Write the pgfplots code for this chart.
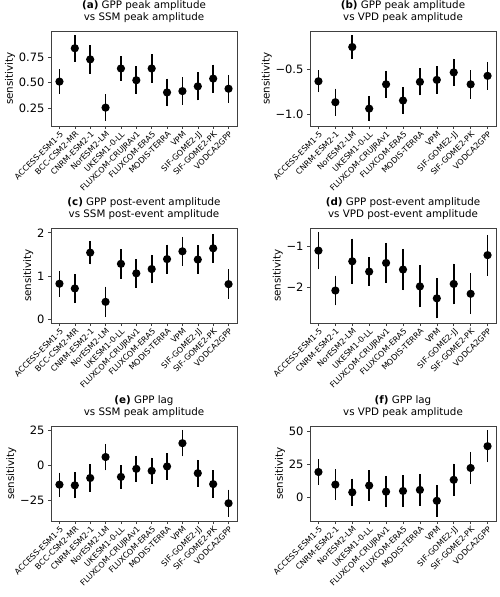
\documentclass[border=0pt]{standalone}
\usepackage{pgfplots}
\pgfplotsset{compat=1.18}
\usepackage{fontspec}
\setmainfont{DejaVu Sans}
\pgfplotsset{
  panel/.style={
    scale only axis, width=186pt, height=95pt,
    anchor=north west,
    axis line style={black!75, line width=0.6pt},
    tick style={black!75, line width=0.6pt},
    tick align=outside, major tick length=3pt,
    xtick pos=bottom, ytick pos=left,
    xtick=data,
    xticklabel style={rotate=45, anchor=north east, font=\fontsize{8}{9}\selectfont, inner sep=1pt},
    yticklabel style={font=\fontsize{11.5}{13}\selectfont},
    ylabel={sensitivity},
    ylabel shift=-3pt,
    ylabel style={font=\fontsize{10.3}{12}\selectfont},
    title style={align=center, font=\fontsize{10.3}{12.3}\selectfont, inner sep=2pt},
  },
  left/.style={panel, xmin=-0.55, xmax=11.55,
    xticklabels={ACCESS-ESM1-5,BCC-CSM2-MR,CNRM-ESM2-1,NorESM2-LM,UKESM1-0-LL,FLUXCOM-CRUJRAv1,FLUXCOM-ERA5,MODIS-TERRA,VPM,SIF-GOME2-JJ,SIF-GOME2-PK,VODCA2GPP}},
  right/.style={panel, xmin=-0.5, xmax=10.5,
    xticklabels={ACCESS-ESM1-5,CNRM-ESM2-1,NorESM2-LM,UKESM1-0-LL,FLUXCOM-CRUJRAv1,FLUXCOM-ERA5,MODIS-TERRA,VPM,SIF-GOME2-JJ,SIF-GOME2-PK,VODCA2GPP}},
  pt/.style={black, fill=black, mark=*, mark size=3.2pt, only marks, line width=1.7pt,
      error bars/.cd, y dir=both, y explicit, error mark=none,
      error bar style={line width=1.7pt, black}},
}
\begin{document}
\begin{tikzpicture}
% (a)
\begin{axis}[left, at={(51pt,-31pt)},
  ymin=0.08, ymax=1.0, ytick={0.25,0.5,0.75}, yticklabels={0.25,0.50,0.75},
  title={\textbf{(a)} GPP peak amplitude\\vs SSM peak amplitude}]
\addplot[pt] coordinates {
(0,0.51) +- (0,0.12)
(1,0.833) +- (0,0.13)
(2,0.725) +- (0,0.138)
(3,0.258) +- (0,0.129)
(4,0.637) +- (0,0.117)
(5,0.523) +- (0,0.135)
(6,0.637) +- (0,0.137)
(7,0.405) +- (0,0.134)
(8,0.418) +- (0,0.134)
(9,0.464) +- (0,0.135)
(10,0.539) +- (0,0.135)
(11,0.441) +- (0,0.134)
};
\end{axis}
% (b)
\begin{axis}[right, at={(310pt,-31pt)},
  ymin=-1.125, ymax=-0.07, ytick={-1,-0.5}, yticklabels={−1.0,−0.5},
  title={\textbf{(b)} GPP peak amplitude\\vs VPD peak amplitude}]
\addplot[pt] coordinates {
(0,-0.628) +- (0,0.122)
(1,-0.861) +- (0,0.15)
(2,-0.248) +- (0,0.131)
(3,-0.932) +- (0,0.141)
(4,-0.662) +- (0,0.15)
(5,-0.842) +- (0,0.15)
(6,-0.635) +- (0,0.15)
(7,-0.613) +- (0,0.152)
(8,-0.530) +- (0,0.152)
(9,-0.662) +- (0,0.158)
(10,-0.568) +- (0,0.154)
};
\end{axis}
% (c)
\begin{axis}[left, at={(51pt,-228pt)},
  ymin=-0.09, ymax=2.11, ytick={0,1,2}, yticklabels={0,1,2},
  title={\textbf{(c)} GPP post-event amplitude\\vs SSM post-event amplitude}]
\addplot[pt] coordinates {
(0,0.82) +- (0,0.30)
(1,0.71) +- (0,0.34)
(2,1.54) +- (0,0.27)
(3,0.40) +- (0,0.355)
(4,1.28) +- (0,0.345)
(5,1.06) +- (0,0.33)
(6,1.16) +- (0,0.33)
(7,1.39) +- (0,0.335)
(8,1.57) +- (0,0.335)
(9,1.38) +- (0,0.335)
(10,1.64) +- (0,0.335)
(11,0.81) +- (0,0.34)
};
\end{axis}
% (d)
\begin{axis}[right, at={(310pt,-228pt)},
  ymin=-2.86, ymax=-0.55, ytick={-2,-1}, yticklabels={−2,−1},
  title={\textbf{(d)} GPP post-event amplitude\\vs VPD post-event amplitude}]
\addplot[pt] coordinates {
(0,-1.10) +- (0,0.455)
(1,-2.07) +- (0,0.36)
(2,-1.36) +- (0,0.55)
(3,-1.61) +- (0,0.345)
(4,-1.40) +- (0,0.49)
(5,-1.56) +- (0,0.50)
(6,-1.97) +- (0,0.51)
(7,-2.26) +- (0,0.49)
(8,-1.91) +- (0,0.495)
(9,-2.15) +- (0,0.495)
(10,-1.21) +- (0,0.495)
};
\end{axis}
% (e)
\begin{axis}[left, at={(51pt,-426pt)},
  ymin=-39.4, ymax=28, ytick={-25,0,25}, yticklabels={−25,0,25},
  title={\textbf{(e)} GPP lag\\vs SSM peak amplitude}]
\addplot[pt] coordinates {
(0,-13.6) +- (0,8.5)
(1,-14.1) +- (0,9.2)
(2,-8.9) +- (0,9.6)
(3,6.0) +- (0,9.4)
(4,-8.1) +- (0,8.3)
(5,-2.4) +- (0,9.4)
(6,-3.8) +- (0,9.4)
(7,-0.7) +- (0,9.5)
(8,15.8) +- (0,9.4)
(9,-5.5) +- (0,9.5)
(10,-13.2) +- (0,9.7)
(11,-26.8) +- (0,9.6)
};
\end{axis}
% (f)
\begin{axis}[right, at={(310pt,-426pt)},
  ymin=-17.5, ymax=54, ytick={0,25,50}, yticklabels={0,25,50},
  title={\textbf{(f)} GPP lag\\vs VPD peak amplitude}]
\addplot[pt] coordinates {
(0,19.4) +- (0,9.6)
(1,9.9) +- (0,11.7)
(2,4.1) +- (0,10.3)
(3,9.2) +- (0,11.5)
(4,4.6) +- (0,11.8)
(5,5.1) +- (0,11.9)
(6,5.9) +- (0,12.0)
(7,-2.3) +- (0,12.0)
(8,13.5) +- (0,12.2)
(9,22.4) +- (0,12.2)
(10,38.8) +- (0,11.9)
};
\end{axis}
\pgfresetboundingbox
\path[use as bounding box] (0pt,0pt) rectangle (500pt,-597pt);
\end{tikzpicture}
\end{document}
